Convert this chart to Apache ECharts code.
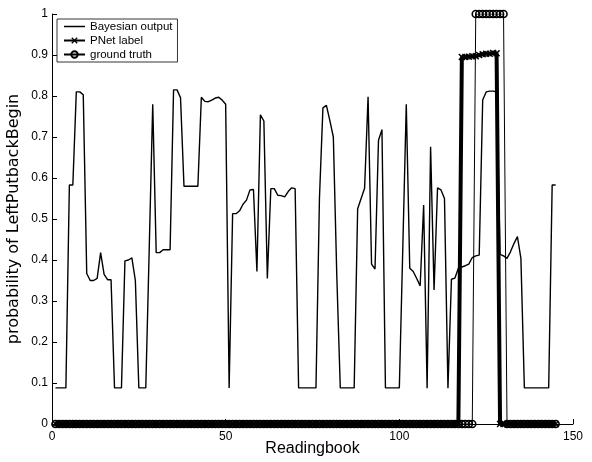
<!DOCTYPE html>
<html>
<head>
<meta charset="utf-8">
<script src="https://cdn.jsdelivr.net/npm/echarts@6/dist/echarts.min.js"></script>
<style>
  html, body { margin: 0; padding: 0; background: #fff; }
  #chart { width: 592px; height: 462px; }
</style>
</head>
<body>
<div id="chart"></div>
<script>
// readings 1..145
const bayesian = [
  0.088, 0.088, 0.088, 0.088, 0.583, 0.583, 0.81, 0.81, 0.803, 0.367,
  0.35, 0.35, 0.355, 0.418, 0.365, 0.352, 0.352, 0.088, 0.088, 0.088,
  0.398, 0.4, 0.405, 0.35, 0.088, 0.088, 0.088, 0.43, 0.78, 0.418,
  0.418, 0.425, 0.425, 0.425, 0.815, 0.815, 0.796, 0.58, 0.58, 0.58,
  0.58, 0.58, 0.797, 0.787, 0.786, 0.79, 0.795, 0.797, 0.79, 0.78,
  0.088, 0.513, 0.513, 0.52, 0.536, 0.546, 0.571, 0.572, 0.372, 0.754,
  0.739, 0.355, 0.574, 0.574, 0.558, 0.557, 0.554, 0.567, 0.576, 0.574,
  0.088, 0.088, 0.088, 0.088, 0.088, 0.088, 0.55, 0.771, 0.777, 0.74,
  0.70, 0.36, 0.088, 0.088, 0.088, 0.088, 0.088, 0.525, 0.55, 0.575,
  0.798, 0.39, 0.378, 0.692, 0.718, 0.088, 0.088, 0.088, 0.088, 0.088,
  0.43, 0.78, 0.38, 0.372, 0.355, 0.337, 0.534, 0.087, 0.676, 0.327,
  0.576, 0.571, 0.55, 0.087, 0.353, 0.356, 0.38, 0.383, 0.386, 0.39,
  0.406, 0.41, 0.412, 0.79, 0.81, 0.812, 0.812, 0.81, 0.414, 0.41,
  0.404, 0.42, 0.44, 0.457, 0.404, 0.088, 0.088, 0.088, 0.088, 0.088,
  0.088, 0.088, 0.088, 0.583, 0.583
];

const pnet = [
  0, 0, 0, 0, 0, 0, 0, 0, 0, 0, 0, 0, 0, 0, 0, 0, 0, 0, 0, 0,
  0, 0, 0, 0, 0, 0, 0, 0, 0, 0, 0, 0, 0, 0, 0, 0, 0, 0, 0, 0,
  0, 0, 0, 0, 0, 0, 0, 0, 0, 0, 0, 0, 0, 0, 0, 0, 0, 0, 0, 0,
  0, 0, 0, 0, 0, 0, 0, 0, 0, 0, 0, 0, 0, 0, 0, 0, 0, 0, 0, 0,
  0, 0, 0, 0, 0, 0, 0, 0, 0, 0, 0, 0, 0, 0, 0, 0, 0, 0, 0, 0,
  0, 0, 0, 0, 0, 0, 0, 0, 0, 0, 0, 0, 0, 0, 0, 0, 0,
  0.895, 0.895, 0.896, 0.897, 0.897, 0.9, 0.902, 0.903, 0.903, 0.905, 0.904,
  0, 0, 0, 0, 0, 0, 0, 0, 0, 0, 0, 0, 0, 0, 0, 0, 0
];

const groundTruth = [
  0, 0, 0, 0, 0, 0, 0, 0, 0, 0, 0, 0, 0, 0, 0, 0, 0, 0, 0, 0,
  0, 0, 0, 0, 0, 0, 0, 0, 0, 0, 0, 0, 0, 0, 0, 0, 0, 0, 0, 0,
  0, 0, 0, 0, 0, 0, 0, 0, 0, 0, 0, 0, 0, 0, 0, 0, 0, 0, 0, 0,
  0, 0, 0, 0, 0, 0, 0, 0, 0, 0, 0, 0, 0, 0, 0, 0, 0, 0, 0, 0,
  0, 0, 0, 0, 0, 0, 0, 0, 0, 0, 0, 0, 0, 0, 0, 0, 0, 0, 0, 0,
  0, 0, 0, 0, 0, 0, 0, 0, 0, 0, 0, 0, 0, 0, 0, 0, 0, 0, 0, 0, 0,
  1, 1, 1, 1, 1, 1, 1, 1, 1,
  0, 0, 0, 0, 0, 0, 0, 0, 0, 0, 0, 0, 0, 0, 0
];

const xTicks = [0, 50, 100, 150];
const yTicks = [0, 0.1, 0.2, 0.3, 0.4, 0.5, 0.6, 0.7, 0.8, 0.9, 1];

// pair each value with its reading number (1-based)
function toPoints(arr) {
    return arr.map((v, i) => [i + 1, v]);
}

const font = 'Liberation Sans, Arial, Helvetica, sans-serif';
const crossSymbol = 'path://M0,1.5 L1.5,0 L5,3.5 L8.5,0 L10,1.5 L6.5,5 L10,8.5 L8.5,10 L5,6.5 L1.5,10 L0,8.5 L3.5,5 Z';
// plain thin line used as the legend icon of the Bayesian series
const plainLineIcon = 'path://M0,0 H42 V3 H0 Z';

var myChart = echarts.init(document.getElementById('chart'));
var option = {
    animation: false,
    backgroundColor: '#fff',
    textStyle: { fontFamily: font },
    grid: { left: 52, right: 19, top: 14, bottom: 38, containLabel: false, outerBoundsMode: 'none' },
    legend: {
        orient: 'vertical',
        left: 57,
        top: 19,
        padding: [1, 5, 1, 6],
        itemGap: 1,
        itemWidth: 21,
        itemHeight: 8,
        borderColor: '#000',
        borderWidth: 0.8,
        borderRadius: 0,
        backgroundColor: '#fff',
        textStyle: { fontSize: 11.5, lineHeight: 13, color: '#000', fontFamily: font },
        data: [
            { name: 'Bayesian output', icon: plainLineIcon },
            'PNet label',
            'ground truth'
        ]
    },
    xAxis: {
        type: 'value',
        min: 0,
        max: 150,
        interval: 50,
        name: 'Readingbook',
        nameLocation: 'middle',
        nameGap: 17,
        nameMoveOverlap: false,
        nameTextStyle: { fontSize: 16, color: '#000', fontFamily: font, verticalAlign: 'top' },
        axisLine: { lineStyle: { color: '#000', width: 1 } },
        axisTick: { inside: true, length: 5, lineStyle: { color: '#000' } },
        axisLabel: {
            color: '#000', fontSize: 12, margin: 7, fontFamily: font,
            customValues: xTicks
        },
        splitLine: { show: false }
    },
    yAxis: {
        type: 'value',
        min: 0,
        max: 1,
        interval: 0.1,
        name: 'probability of LeftPutbackBegin',
        nameLocation: 'middle',
        nameGap: 30,
        nameMoveOverlap: false,
        nameTextStyle: { fontSize: 16, color: '#000', fontFamily: 'DejaVu Sans, sans-serif' },
        axisLine: { lineStyle: { color: '#000', width: 1 } },
        axisTick: { inside: true, length: 5, lineStyle: { color: '#000' } },
        axisLabel: {
            color: '#000', fontSize: 12, margin: 4, fontFamily: font,
            customValues: yTicks
        },
        splitLine: { show: false }
    },
    series: [
        {
            name: 'Bayesian output',
            type: 'line',
            data: toPoints(bayesian),
            showSymbol: false,
            symbol: 'none',
            lineStyle: { color: '#000', width: 1.4 },
            itemStyle: { color: '#000' },
            z: 2
        },
        {
            name: 'PNet label',
            type: 'line',
            data: toPoints(pnet),
            symbol: crossSymbol,
            symbolSize: 7,
            showAllSymbol: true,
            lineStyle: { color: '#000', width: 4 },
            itemStyle: { color: '#000' },
            z: 3
        },
        {
            name: 'ground truth',
            type: 'line',
            data: toPoints(groundTruth),
            symbol: 'circle',
            symbolSize: 7,
            showAllSymbol: true,
            lineStyle: { color: '#000', width: 1 },
            itemStyle: { color: 'rgba(255,255,255,0)', borderColor: '#000', borderWidth: 1.6 },
            z: 4
        }
    ]
};
window.addEventListener('resize', function() {
    myChart.resize();
});
myChart.setOption(option);
</script>
</body>
</html>
